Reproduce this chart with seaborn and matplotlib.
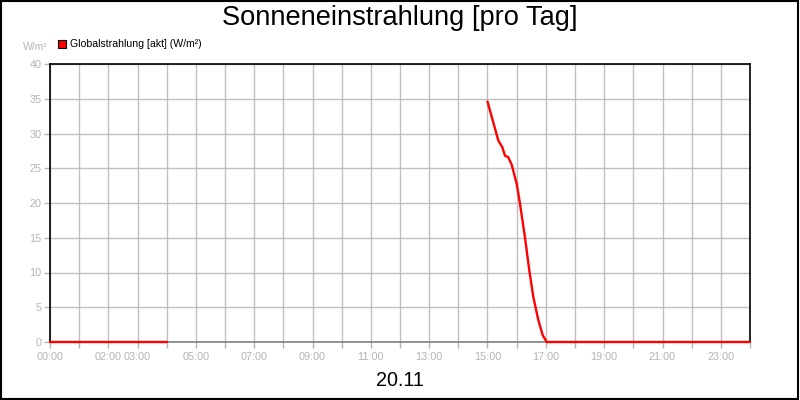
import numpy as np
import pandas as pd
import matplotlib
matplotlib.use("Agg")
import matplotlib.pyplot as plt
import seaborn as sns
from matplotlib.patches import Rectangle

# --- data (hours of day, W/m²) ---
night_hours = [0.0, 1.0, 2.0, 3.0, 4.0]
night_values = [0, 0, 0, 0, 0]
day_hours = [15.0, 15.37, 15.51, 15.6, 15.71, 15.83, 16.0, 16.11, 16.28, 16.43,
             16.57, 16.74, 16.89, 17.03, 18.0, 20.0, 22.0, 24.0]
day_values = [34.6, 29.0, 28.0, 26.8, 26.6, 25.5, 22.8, 20.0, 15.2, 10.4,
              6.5, 3.2, 1.0, 0.0, 0, 0, 0, 0]
tick_hours = list(range(25))
tick_labels = ["00:00", "", "02:00", "03:00", "", "05:00", "", "07:00", "", "09:00",
               "", "11:00", "", "13:00", "", "15:00", "", "17:00", "", "19:00",
               "", "21:00", "", "23:00", ""]
y_ticks = [0, 5, 10, 15, 20, 25, 30, 35, 40]

df = pd.DataFrame({
    "h": night_hours + day_hours,
    "v": night_values + day_values,
    "seg": [0] * len(night_hours) + [1] * len(day_hours),
})

sns.set_theme(style="white")
plt.rcParams["font.family"] = ["Liberation Sans", "DejaVu Sans"]

fig = plt.figure(figsize=(8, 4), dpi=100)
ax = fig.add_axes([50 / 800, 58 / 400, 700 / 800, 278 / 400])

sns.lineplot(data=df, x="h", y="v", units="seg", estimator=None, color="#ff0000",
             linewidth=1.7, ax=ax, legend=False)
for ln in ax.lines:
    ln.set_zorder(10)
    ln.set_clip_on(False)

ax.set_xlim(0, 24)
ax.set_ylim(0, 40)
ax.set_xticks(tick_hours)
ax.set_xticklabels(tick_labels)
ax.set_yticks(y_ticks)
ax.grid(True, color="#c0c0c0", linewidth=1)
ax.set_axisbelow(True)
ax.set_xlabel("")
ax.set_ylabel("")
tcol = "#b4b4b4"
ax.tick_params(axis="both", colors=tcol, labelsize=7.8, length=4, width=1,
               direction="out", bottom=True, left=True)
ax.tick_params(axis="x", pad=3)
ax.tick_params(axis="y", pad=2)
for s in ["top", "left", "right"]:
    ax.spines[s].set_color("black")
    ax.spines[s].set_linewidth(1.2)
ax.spines["bottom"].set_color("#808080")
ax.spines["bottom"].set_linewidth(1.2)

fig.text(0.5, 1 - 18 / 400, "Sonneneinstrahlung [pro Tag]", ha="center", va="center",
         fontsize=19.6, color="black")
fig.text(0.5, 1 - 380 / 400, "20.11", ha="center", va="center", fontsize=14.2, color="black")
fig.text(35 / 800, 1 - 47 / 400, "W/m²", ha="center", va="center", fontsize=7.5, color=tcol)
fig.patches.append(Rectangle((58 / 800, 1 - 48 / 400), 8 / 800, 8 / 400, transform=fig.transFigure,
                             facecolor="#ff0000", edgecolor="black", linewidth=0.8))
fig.text(70 / 800, 1 - 44 / 400, "Globalstrahlung [akt] (W/m²)", ha="left", va="center",
         fontsize=7.6, color="black")
fig.patches.append(Rectangle((0.001, 0.002), 0.997, 0.995, transform=fig.transFigure,
                             facecolor="none", edgecolor="black", linewidth=1.5))

fig.savefig("out.png", dpi=100)
